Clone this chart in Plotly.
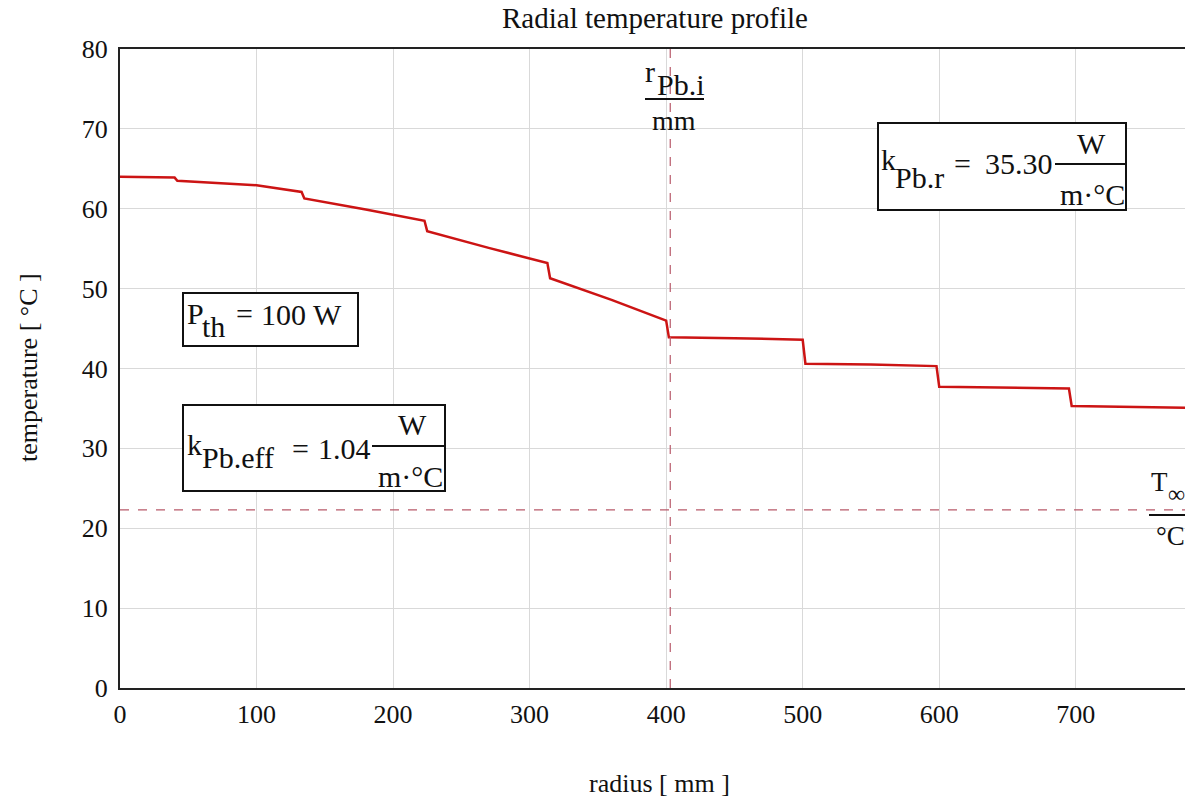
import plotly.graph_objects as go

# ---------------- data ----------------
radius_mm = [0, 40, 42, 100, 133, 135, 180, 223, 225, 270, 313, 315, 360, 400, 402,
             450, 500, 502, 550, 598, 600, 650, 695, 697, 780]
temp_C = [64.0, 63.9, 63.5, 62.95, 62.1, 61.3, 59.9, 58.5, 57.2, 55.1, 53.2, 51.3, 48.6,
          46.0, 43.9, 43.8, 43.6, 40.6, 40.5, 40.3, 37.7, 37.6, 37.5, 35.3, 35.1]
r_Pb_i = 403      # mm
T_inf = 22.3      # degC
x_ticks = [0, 100, 200, 300, 400, 500, 600, 700]
y_ticks = [0, 10, 20, 30, 40, 50, 60, 70, 80]

# ---------------- geometry helpers (pixel -> paper) ----------------
W, H = 1185, 797
PL, PR, PT, PB = 120, 1185, 49, 688


def px(x):
    return (x - PL) / (PR - PL)


def py(y):
    return (PB - y) / (PB - PT)


FONT = "Liberation Serif"
BF = 30  # font size inside the boxes

fig = go.Figure()
fig.add_trace(go.Scatter(x=radius_mm, y=temp_C, mode="lines",
                         line=dict(color="#cc1414", width=2.5), hoverinfo="skip"))
fig.add_trace(go.Scatter(x=[r_Pb_i, r_Pb_i], y=[0, 80], mode="lines",
                         line=dict(color="#b85a6a", width=1.2, dash="dash")))
fig.add_trace(go.Scatter(x=[0, 780], y=[T_inf, T_inf], mode="lines",
                         line=dict(color="#b85a6a", width=1.2, dash="dash")))

annotations = []
shapes = []


def txt(text, x, y, size=BF, xanchor="center"):
    annotations.append(dict(text=text, x=px(x), y=py(y), xref="paper", yref="paper",
                            showarrow=False, xanchor=xanchor, yanchor="middle",
                            borderpad=0,
                            font=dict(family=FONT, size=size, color="#111")))


def hline(x0, x1, y, w=2):
    shapes.append(dict(type="line", xref="paper", yref="paper", x0=px(x0), x1=px(x1),
                       y0=py(y), y1=py(y), line=dict(color="#111", width=w)))


def box(x0, y0, x1, y1):
    shapes.append(dict(type="rect", xref="paper", yref="paper", x0=px(x0), x1=px(x1),
                       y0=py(y0), y1=py(y1), line=dict(color="#111", width=2),
                       fillcolor="white", layer="above"))


# title and axis titles
txt("Radial temperature profile", 655, 18, size=29)
txt("radius [ mm ]", 659, 783, size=26)
annotations.append(dict(text="temperature [ °C ]", x=px(28), y=py(368), xref="paper",
                        yref="paper", showarrow=False, textangle=-90,
                        xanchor="center", yanchor="middle",
                        font=dict(family=FONT, size=26, color="#111")))

# P_th box
box(183, 293, 358, 346)
txt("P", 186, 313, xanchor="left")
txt("th", 201, 327, xanchor="left")
txt("=", 244, 313)
txt("100 W", 260, 314, xanchor="left")

# k_Pb.eff box
box(183, 405, 445, 491)
txt("k", 186, 444, xanchor="left")
txt("Pb.eff", 201, 457, xanchor="left")
txt("=", 300, 448)
txt("1.04", 317, 448, xanchor="left")
hline(372, 445, 446)
txt("W", 412, 424)
txt("m·°C", 410, 476)

# k_Pb.r box
box(878, 123, 1126, 210)
txt("k", 880, 160, xanchor="left")
txt("Pb.r", 894, 177, xanchor="left")
txt("=", 963, 163)
txt("35.30", 984, 163, xanchor="left")
hline(1055, 1126, 164)
txt("W", 1091, 143)
txt("m·°C", 1092, 194)

# r_Pb.i / mm label
txt("r", 644, 71, xanchor="left")
txt("Pb.i", 656, 84, xanchor="left")
hline(645, 704, 99)
txt("mm", 674, 121, size=28)

# T_inf / degC label
txt("T", 1150, 482, size=27, xanchor="left")
txt("∞", 1167, 494, size=24, xanchor="left")
hline(1149, 1185, 515)
txt("°C", 1155, 536, size=27, xanchor="left")

fig.update_layout(
    width=W, height=H,
    margin=dict(l=PL, r=W - PR, t=PT, b=H - PB),
    paper_bgcolor="white", plot_bgcolor="white",
    showlegend=False,
    font=dict(family=FONT, size=26, color="#111"),
    annotations=annotations, shapes=shapes,
    xaxis=dict(range=[0, 780], tickvals=x_ticks, showgrid=True, gridcolor="#d9d9d9",
               gridwidth=1, showline=True, linecolor="#222", linewidth=2, mirror=True,
               zeroline=False, ticks="", ticklabelstandoff=2,
               tickfont=dict(family=FONT, size=26, color="#111")),
    yaxis=dict(range=[0, 80], tickvals=y_ticks, showgrid=True, gridcolor="#d9d9d9",
               gridwidth=1, showline=True, linecolor="#222", linewidth=2,
               zeroline=False, ticks="", ticklabelstandoff=5,
               tickfont=dict(family=FONT, size=26, color="#111")),
)

fig.write_html("out.html", config={"displayModeBar": False},
               post_script="document.body.style.margin='0';"
                           "document.body.style.overflow='hidden';")
